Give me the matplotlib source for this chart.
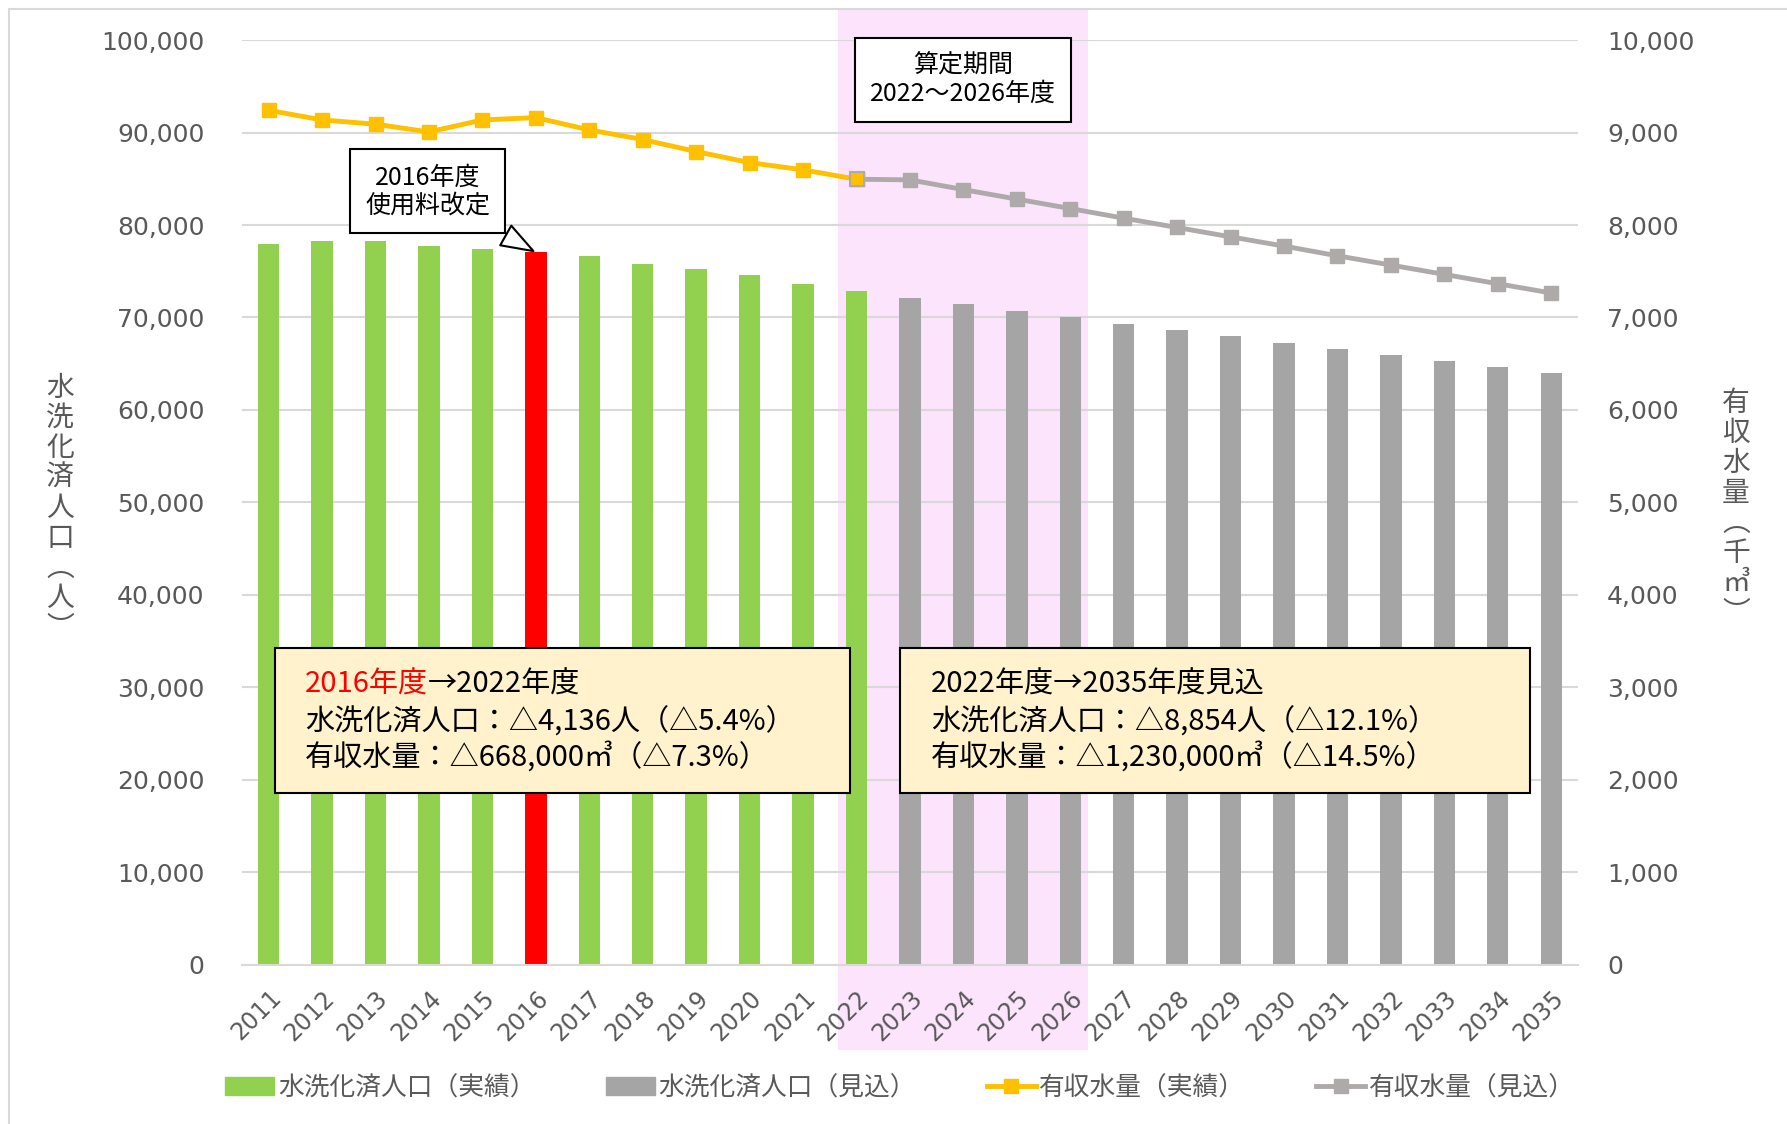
import matplotlib
matplotlib.use("Agg")
import matplotlib.pyplot as plt
from matplotlib.patches import Patch, Rectangle
from matplotlib.lines import Line2D
import numpy as np

plt.rcParams["font.family"] = ["DejaVu Sans", "Noto Sans CJK JP"]
JP = ["Noto Sans CJK JP", "DejaVu Sans"]

# data
years = ["2011", "2012", "2013", "2014", "2015", "2016", "2017", "2018", "2019",
         "2020", "2021", "2022", "2023", "2024", "2025", "2026", "2027", "2028",
         "2029", "2030", "2031", "2032", "2033", "2034", "2035"]
pop_actual = [78000, 78300, 78300, 77700, 77450, 77030, 76600, 75730, 75190,
              74590, 73610, 72890]                      # 2011-2022
pop_forecast = [72140, 71450, 70730, 70040, 69320, 68630, 67950, 67260, 66620,
                65980, 65330, 64650, 64040]             # 2023-2035
water_actual = [9240, 9136, 9090, 9006, 9136, 9161, 9028, 8924, 8794, 8675,
                8596, 8495]                              # 2011-2022
water_forecast = [8495, 8488, 8383, 8280, 8178, 8074, 7973, 7872, 7772, 7667,
                  7567, 7466, 7365, 7265]                # 2022-2035
highlight_year = "2016"
period_years = ("2022", "2026")

GREEN, GREY_BAR, RED = "#92D050", "#A5A5A5", "#FF0000"
ORANGE, GREY_LINE = "#FFC000", "#AEAAAA"
PINK, GRID, TXT = "#FCE4FC", "#D9D9D9", "#595959"

fig = plt.figure(figsize=(17.87, 11.24), dpi=100)
ax = fig.add_axes([0.1354, 0.1415, 0.7476, 0.8229])
ax2 = ax.twinx()

x = np.arange(len(years))
n_act = len(pop_actual)
x_act = x[:n_act]
x_fc = x[n_act:]
act_colors = [RED if years[i] == highlight_year else GREEN for i in x_act]
ax.bar(x_act, pop_actual, width=0.4, color=act_colors, zorder=2)
ax.bar(x_fc, pop_forecast, width=0.4, color=GREY_BAR, zorder=2)

# calculation period shading (spills over the tick labels)
p0, p1 = years.index(period_years[0]), years.index(period_years[1])
ax.axvspan(p0 - 0.35, p1 + 0.33, ymin=-0.092, ymax=1.0335, color=PINK,
           lw=0, zorder=0, clip_on=False)

ax.set_xlim(-0.5, len(years) - 0.5)
ax.set_ylim(0, 100000)
ax.set_yticks(np.arange(0, 100001, 10000))
ax.yaxis.set_major_formatter(matplotlib.ticker.StrMethodFormatter("{x:,.0f}"))
ax.set_axisbelow(True)
ax.yaxis.grid(color=GRID, lw=1.5)
ax.set_xticks(x, years, rotation=45, ha="right", rotation_mode="anchor")
ax.tick_params(axis="x", length=0, pad=15, labelsize=17, labelcolor=TXT)
ax.tick_params(axis="y", length=0, pad=27, labelsize=18, labelcolor=TXT)
for s in ["top", "left", "right"]:
    ax.spines[s].set_visible(False)
ax.spines["bottom"].set_color(GRID)
ax.spines["bottom"].set_linewidth(1.5)

# water volume lines
x_wfc = x[n_act - 1:]
ax2.plot(x_wfc, water_forecast, color=GREY_LINE, lw=3.5, marker="s",
         markersize=10, zorder=3)
ax2.plot(x_act, water_actual, color=ORANGE, lw=3.5, marker="s",
         markersize=10, zorder=4)
ax2.plot(x_act[-1:], water_actual[-1:], ls="none", marker="s", markersize=10,
         mfc=ORANGE, mec=GREY_LINE, mew=1.5, zorder=5)
ax2.set_ylim(0, 10000)
ax2.set_yticks(np.arange(0, 10001, 1000))
ax2.yaxis.set_major_formatter(matplotlib.ticker.StrMethodFormatter("{x:,.0f}"))
ax2.tick_params(axis="y", length=0, pad=21, labelsize=18, labelcolor=TXT)
for s in ax2.spines.values():
    s.set_visible(False)

# callouts
hi = years.index(highlight_year)
ax2.annotate("2016年度\n使用料改定", xy=(hi, pop_actual[hi]), xycoords=ax.transData,
             xytext=(-78, 44), textcoords="offset points", ha="center",
             va="center", fontsize=18, linespacing=1.1, zorder=6, family=JP,
             bbox=dict(boxstyle="square,pad=0.6", fc="white", ec="black", lw=1.5),
             arrowprops=dict(arrowstyle="wedge,tail_width=0.9,shrink_factor=0.5",
                             fc="white", ec="black", lw=1.5, shrinkB=2))
ax2.text((p0 + p1) / 2, 0.957, "算定期間\n2022～2026年度", transform=ax.get_xaxis_transform(),
         ha="center", va="center", fontsize=18, linespacing=1.1, zorder=6, family=JP,
         bbox=dict(boxstyle="square,pad=0.6", fc="white", ec="black", lw=1.5))

# summary boxes
for bx0, bx1 in [(0.0247, 0.455), (0.4925, 0.964)]:
    ax2.add_patch(Rectangle((bx0, 0.186), bx1 - bx0, 0.157, transform=ax2.transAxes,
                            fc="#FFF2CC", ec="black", lw=1.5, zorder=6))
box_kw = dict(transform=ax2.transAxes, fontsize=21, va="center", zorder=7, family=JP)
t1 = ax2.text(0.047, 0.303, "2016年度", color=RED, **box_kw)
ax2.annotate("→2022年度", xy=(1, 0.5), xycoords=t1, va="center", ha="left",
             fontsize=21, zorder=7, family=JP)
ax2.text(0.047, 0.262, "水洗化済人口：△4,136人（△5.4%）", **box_kw)
ax2.text(0.047, 0.225, "有収水量：△668,000㎥（△7.3%）", **box_kw)
ax2.text(0.516, 0.303, "2022年度→2035年度見込", **box_kw)
ax2.text(0.516, 0.262, "水洗化済人口：△8,854人（△12.1%）", **box_kw)
ax2.text(0.516, 0.225, "有収水量：△1,230,000㎥（△14.5%）", **box_kw)

# axis titles, stacked vertically
fig.text(60 / 1787, 1 - 508 / 1124, "水\n洗\n化\n済\n人\n口\n︵\n人\n︶", ha="center",
         va="center", fontsize=20, linespacing=1.0, color=TXT, family=JP)
fig.text(1736 / 1787, 1 - 508 / 1124, "有\n収\n水\n量\n︵\n千\n㎥\n︶", ha="center",
         va="center", fontsize=20, linespacing=1.0, color=TXT, family=JP)

# legend
handles = [Patch(color=GREEN), Patch(color=GREY_BAR),
           Line2D([], [], color=ORANGE, lw=3.5, marker="s", markersize=10),
           Line2D([], [], color=GREY_LINE, lw=3.5, marker="s", markersize=10)]
labels = ["水洗化済人口（実績）", "水洗化済人口（見込）", "有収水量（実績）", "有収水量（見込）"]
leg = fig.legend(handles, labels, loc="center", bbox_to_anchor=(0.5036, 0.032),
                 ncol=4, frameon=False, fontsize=18.5, handlelength=1.9,
                 handletextpad=0.15, columnspacing=2.75)
for t in leg.get_texts():
    t.set_color(TXT)

# chart border
fig.add_artist(Line2D([9 / 1787, 9 / 1787], [0, 1 - 9 / 1124], color=GRID, lw=1.5))
fig.add_artist(Line2D([9 / 1787, 1], [1 - 9 / 1124, 1 - 9 / 1124], color=GRID, lw=1.5))

fig.savefig("out.png", dpi=100)
